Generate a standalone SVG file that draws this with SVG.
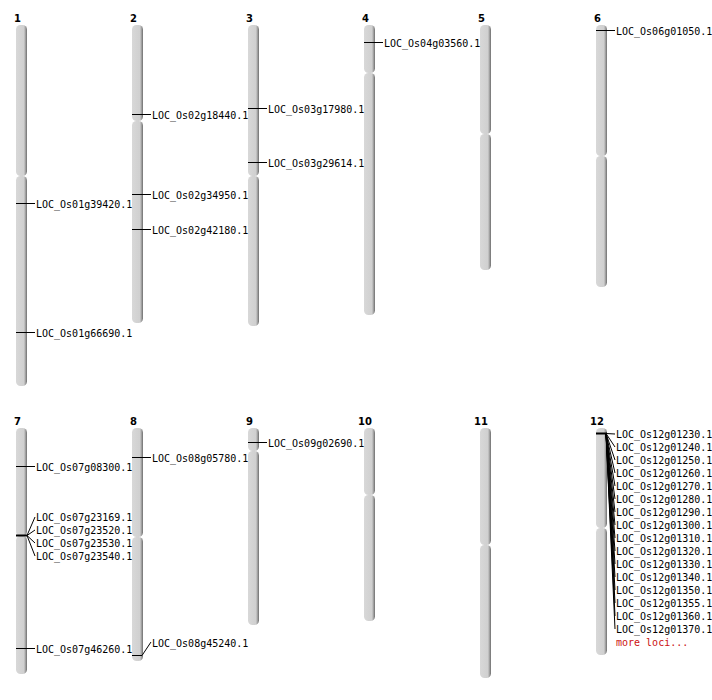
<svg xmlns="http://www.w3.org/2000/svg" width="712" height="700" viewBox="0 0 712 700">
<style>
.arm{fill:url(#cg)}
.num{font-family:"DejaVu Sans",sans-serif;font-weight:bold;font-size:10px;fill:#000}
.lbl{font-family:"DejaVu Sans Mono",monospace;font-size:10px;fill:#000}
.more{font-family:"DejaVu Sans Mono",monospace;font-size:10px;fill:#cc1111}
.mk{stroke:#000;stroke-width:1;fill:none}
.mk2{stroke:#000;stroke-width:2;fill:none}
</style>
<defs>
<linearGradient id="cg" x1="0" y1="0" x2="1" y2="0">
<stop offset="0" stop-color="#d8d8d8"/>
<stop offset="0.7" stop-color="#d0d0d0"/>
<stop offset="0.8" stop-color="#b8b8b8"/>
<stop offset="1" stop-color="#6e6e6e"/>
</linearGradient>
</defs>
<rect width="712" height="700" fill="#fff"/>
<g id="chr1"><text class="num" x="14" y="22">1</text><rect class="arm" x="16" y="25" width="11" height="151" rx="4.5"/><rect class="arm" x="16" y="176" width="11" height="210" rx="4.5"/></g>
<g id="chr2"><text class="num" x="130" y="22">2</text><rect class="arm" x="132" y="25" width="11" height="96" rx="4.5"/><rect class="arm" x="132" y="121" width="11" height="202" rx="4.5"/></g>
<g id="chr3"><text class="num" x="246" y="22">3</text><rect class="arm" x="248" y="25" width="11" height="151" rx="4.5"/><rect class="arm" x="248" y="176" width="11" height="150" rx="4.5"/></g>
<g id="chr4"><text class="num" x="362" y="22">4</text><rect class="arm" x="364" y="25" width="11" height="48" rx="4.5"/><rect class="arm" x="364" y="73" width="11" height="242" rx="4.5"/></g>
<g id="chr5"><text class="num" x="478" y="22">5</text><rect class="arm" x="480" y="25" width="11" height="109" rx="4.5"/><rect class="arm" x="480" y="134" width="11" height="136" rx="4.5"/></g>
<g id="chr6"><text class="num" x="594" y="22">6</text><rect class="arm" x="596" y="25" width="11" height="131" rx="4.5"/><rect class="arm" x="596" y="156" width="11" height="131" rx="4.5"/></g>
<g id="chr7"><text class="num" x="14" y="425">7</text><rect class="arm" x="16" y="428" width="11" height="108" rx="4.5"/><rect class="arm" x="16" y="536" width="11" height="138" rx="4.5"/></g>
<g id="chr8"><text class="num" x="130" y="425">8</text><rect class="arm" x="132" y="428" width="11" height="109" rx="4.5"/><rect class="arm" x="132" y="537" width="11" height="124" rx="4.5"/></g>
<g id="chr9"><text class="num" x="246" y="425">9</text><rect class="arm" x="248" y="428" width="11" height="23" rx="4.5"/><rect class="arm" x="248" y="451" width="11" height="174" rx="4.5"/></g>
<g id="chr10"><text class="num" x="358" y="425">10</text><rect class="arm" x="364" y="428" width="11" height="67" rx="4.5"/><rect class="arm" x="364" y="495" width="11" height="126" rx="4.5"/></g>
<g id="chr11"><text class="num" x="474" y="425">11</text><rect class="arm" x="480" y="428" width="11" height="117" rx="4.5"/><rect class="arm" x="480" y="545" width="11" height="133" rx="4.5"/></g>
<g id="chr12"><text class="num" x="590" y="425">12</text><rect class="arm" x="596" y="428" width="11" height="100" rx="4.5"/><rect class="arm" x="596" y="528" width="11" height="127" rx="4.5"/></g>
<g id="connectors">
<path class="mk" d="M16 203.5H35M16 332.5H35M132 114.5H151M132 194.5H151M132 229.5H151M248 108.5H267M248 162.5H267M364 42.5H383M596 30.5H615M16 466.5H35M16 648.5H35M132 457.5H151M248 442.5H267"/>
<path class="mk2" d="M16 535.5H27"/>
<path class="mk" d="M27 535.5L35 517M27 535.5L35 530M27 535.5L35 543M27 535.5L35 556"/>
<path class="mk" d="M132 655.5H142L151 642"/>
<path class="mk2" d="M596 433.5H607"/>
<path class="mk" d="M606 433.5L615 434M606 433.5L615 447M606 433.5L615 460M606 433.5L615 473M606 433.5L615 486M606 433.5L615 499M606 433.5L615 512M606 433.5L615 525M606 433.5L615 538M606 433.5L615 551M606 433.5L615 564M606 433.5L615 577M606 433.5L615 590M606 433.5L615 603M606 433.5L615 616M606 433.5L615 629"/>
</g>
<g id="labels">
<text class="lbl" x="36" y="208">LOC_Os01g39420.1</text>
<text class="lbl" x="36" y="337">LOC_Os01g66690.1</text>
<text class="lbl" x="152" y="119">LOC_Os02g18440.1</text>
<text class="lbl" x="152" y="199">LOC_Os02g34950.1</text>
<text class="lbl" x="152" y="234">LOC_Os02g42180.1</text>
<text class="lbl" x="268" y="113">LOC_Os03g17980.1</text>
<text class="lbl" x="268" y="167">LOC_Os03g29614.1</text>
<text class="lbl" x="384" y="47">LOC_Os04g03560.1</text>
<text class="lbl" x="616" y="35">LOC_Os06g01050.1</text>
<text class="lbl" x="36" y="471">LOC_Os07g08300.1</text>
<text class="lbl" x="36" y="521">LOC_Os07g23169.1</text>
<text class="lbl" x="36" y="534">LOC_Os07g23520.1</text>
<text class="lbl" x="36" y="547">LOC_Os07g23530.1</text>
<text class="lbl" x="36" y="560">LOC_Os07g23540.1</text>
<text class="lbl" x="36" y="653">LOC_Os07g46260.1</text>
<text class="lbl" x="152" y="462">LOC_Os08g05780.1</text>
<text class="lbl" x="152" y="647">LOC_Os08g45240.1</text>
<text class="lbl" x="268" y="447">LOC_Os09g02690.1</text>
<text class="lbl" x="616" y="438">LOC_Os12g01230.1</text>
<text class="lbl" x="616" y="451">LOC_Os12g01240.1</text>
<text class="lbl" x="616" y="464">LOC_Os12g01250.1</text>
<text class="lbl" x="616" y="477">LOC_Os12g01260.1</text>
<text class="lbl" x="616" y="490">LOC_Os12g01270.1</text>
<text class="lbl" x="616" y="503">LOC_Os12g01280.1</text>
<text class="lbl" x="616" y="516">LOC_Os12g01290.1</text>
<text class="lbl" x="616" y="529">LOC_Os12g01300.1</text>
<text class="lbl" x="616" y="542">LOC_Os12g01310.1</text>
<text class="lbl" x="616" y="555">LOC_Os12g01320.1</text>
<text class="lbl" x="616" y="568">LOC_Os12g01330.1</text>
<text class="lbl" x="616" y="581">LOC_Os12g01340.1</text>
<text class="lbl" x="616" y="594">LOC_Os12g01350.1</text>
<text class="lbl" x="616" y="607">LOC_Os12g01355.1</text>
<text class="lbl" x="616" y="620">LOC_Os12g01360.1</text>
<text class="lbl" x="616" y="633">LOC_Os12g01370.1</text>
<text class="more" x="616" y="646">more loci...</text>
</g>
</svg>
